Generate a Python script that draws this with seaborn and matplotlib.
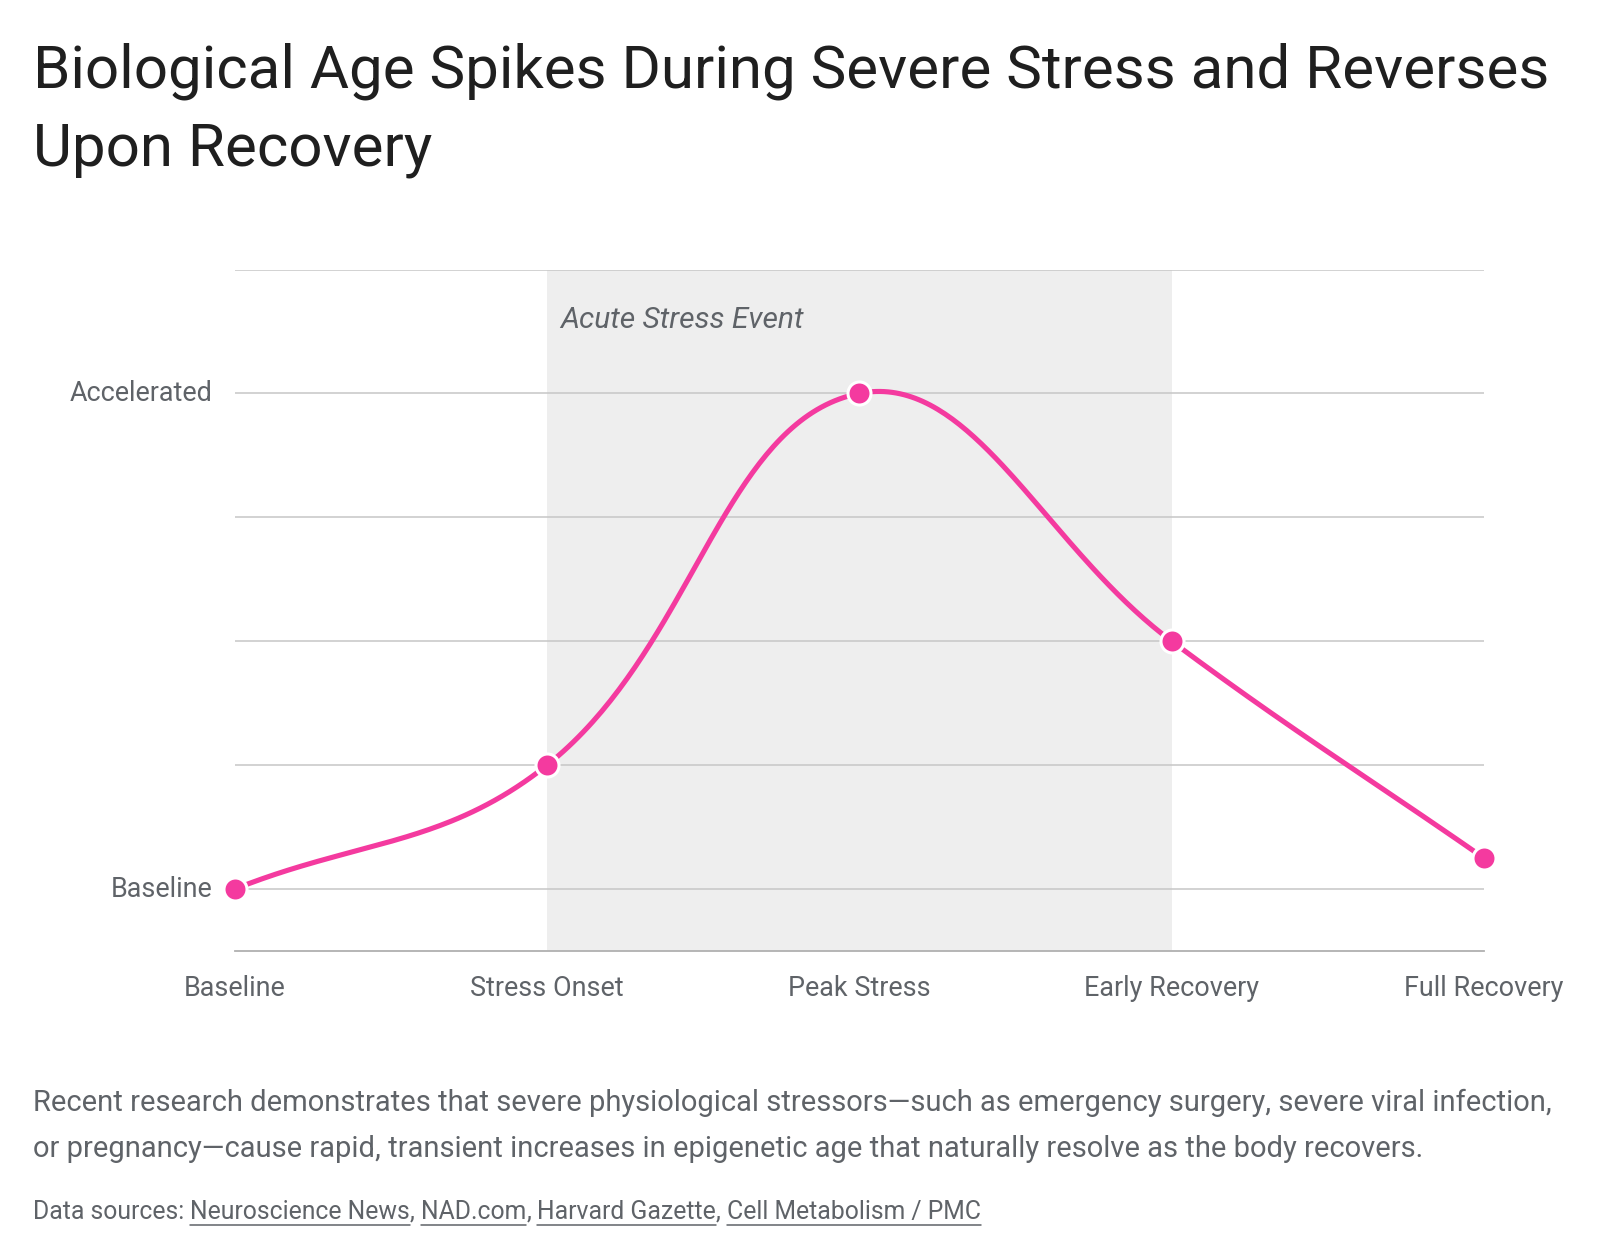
import numpy as np
import pandas as pd
import matplotlib
matplotlib.use("Agg")
import matplotlib.pyplot as plt
import seaborn as sns

# ---------------- data ----------------
stages = ["Baseline", "Stress Onset", "Peak Stress", "Early Recovery", "Full Recovery"]
bio_age = [0.0, 1.0, 4.0, 2.0, 0.25]
y_tick_values = [0, 1, 2, 3, 4, 5]
y_tick_labels = ["Baseline", "", "", "", "Accelerated", ""]
event_start = "Stress Onset"
event_end = "Early Recovery"
event_label = "Acute Stress Event"

title_lines = ["Biological Age Spikes During Severe Stress and Reverses", "Upon Recovery"]
body_lines = [
    "Recent research demonstrates that severe physiological stressors\u2014such as emergency surgery, severe viral infection,",
    "or pregnancy\u2014cause rapid, transient increases in epigenetic age that naturally resolve as the body recovers.",
]
source_prefix = "Data sources:"
source_links = ["Neuroscience News", "NAD.com", "Harvard Gazette", "Cell Metabolism / PMC"]

PINK = "#F43A9F"
GRAY_TXT = "#5f6368"
DARK_TXT = "#1f1f1f"
TENSION = 0.4

sns.set_theme(style="white")
plt.rcParams["font.family"] = ["Roboto", "DejaVu Sans"]

W, H = 1600, 1258
fig = plt.figure(figsize=(W / 100, H / 100), dpi=100)
fig.patch.set_facecolor("white")


def fx(px):
    return px / W


def fy(py):
    return 1 - py / H


ax_l, ax_r, ax_t, ax_b = 234.7, 1484.0, 269.5, 951.0
ax = fig.add_axes([fx(ax_l), fy(ax_b), (ax_r - ax_l) / W, (ax_b - ax_t) / H])

df = pd.DataFrame({"stage": stages, "value": bio_age})
df["pos"] = np.arange(len(stages), dtype=float)

ax.set_xlim(0, len(stages) - 1)
ax.set_ylim(-0.5, 5)


# tension-based bezier smoothing in screen space (Chart.js-style line rendering)
def spline_curve(ax, xs, ys, tension, n=80):
    pts = ax.transData.transform(np.column_stack([xs, ys]))
    m = len(pts)
    prev_c = np.zeros_like(pts)
    next_c = np.zeros_like(pts)
    bb = ax.bbox
    for i in range(m):
        cur = pts[i]
        prv = pts[i - 1] if i > 0 else cur
        nxt = pts[i + 1] if i < m - 1 else cur
        d01 = np.hypot(*(cur - prv))
        d12 = np.hypot(*(nxt - cur))
        tot = d01 + d12
        s01 = d01 / tot if tot else 0
        s12 = d12 / tot if tot else 0
        prev_c[i] = cur - tension * s01 * (nxt - prv)
        next_c[i] = cur + tension * s12 * (nxt - prv)
    for c in (prev_c, next_c):
        c[:, 0] = np.clip(c[:, 0], bb.x0, bb.x1)
        c[:, 1] = np.clip(c[:, 1], bb.y0, bb.y1)
    out = []
    for i in range(m - 1):
        u = np.linspace(0, 1, n, endpoint=(i == m - 2))[:, None]
        p0, p1, p2, p3 = pts[i], next_c[i], prev_c[i + 1], pts[i + 1]
        out.append((1 - u) ** 3 * p0 + 3 * (1 - u) ** 2 * u * p1 + 3 * (1 - u) * u ** 2 * p2 + u ** 3 * p3)
    out = np.vstack(out)
    data = ax.transData.inverted().transform(out)
    return data[:, 0], data[:, 1]


cx, cy = spline_curve(ax, df["pos"].values, df["value"].values, TENSION)

# shaded event band
x0 = stages.index(event_start)
x1 = stages.index(event_end)
ax.axvspan(x0, x1, color="#eeeeee", zorder=0, lw=0)

sns.lineplot(x=cx, y=cy, ax=ax, color=PINK, linewidth=3.7, sort=False, zorder=3)
for ln in ax.lines:
    ln.set_clip_on(False)
    ln.set_solid_capstyle("round")
sns.scatterplot(data=df, x="pos", y="value", ax=ax, s=275, color=PINK,
                edgecolor="white", linewidth=2.2, zorder=5, clip_on=False, legend=False)

ax.set_xlim(0, len(stages) - 1)
ax.set_ylim(-0.5, 5)
ax.set_xticks(df["pos"])
ax.set_xticklabels(stages)
ax.set_yticks(y_tick_values)
ax.set_yticklabels(y_tick_labels)
ax.set_xlabel("")
ax.set_ylabel("")
ax.set_axisbelow(True)
ax.yaxis.grid(True, color="#c6c6c6", linewidth=1.1)
ax.xaxis.grid(False)
for side in ["top", "right", "left"]:
    ax.spines[side].set_visible(False)
ax.spines["bottom"].set_color("#b0b0b0")
ax.spines["bottom"].set_linewidth(1.3)
ax.tick_params(axis="both", length=0, colors=GRAY_TXT, labelsize=17)
ax.tick_params(axis="x", pad=17)
ax.tick_params(axis="y", pad=16)
for lbl in ax.get_yticklabels():
    lbl.set_va("center")
ax.set_facecolor("white")

ev = ax.annotate(event_label, xy=(x0, 5), xycoords="data", xytext=(9.5, -36),
                 textcoords="offset points", ha="left", va="center",
                 fontsize=18, style="italic", color=GRAY_TXT)

# titles
t1 = fig.text(fx(33), fy(88), title_lines[0], ha="left", va="baseline", fontsize=40, color=DARK_TXT)
t2 = fig.text(fx(33), fy(165), title_lines[1], ha="left", va="baseline", fontsize=40, color=DARK_TXT)

b1 = fig.text(fx(33), fy(1103), body_lines[0], ha="left", va="center", fontsize=19, color=GRAY_TXT)
b2 = fig.text(fx(33), fy(1149), body_lines[1], ha="left", va="center", fontsize=19, color=GRAY_TXT)

fig.canvas.draw()
r = fig.canvas.get_renderer()


def fit(t, target):
    w = t.get_window_extent(r).width
    return t.get_fontsize() * target / w


fs_title = fit(t1, 1513)
t1.set_fontsize(fs_title)
t2.set_fontsize(fs_title)
fs_body = fit(b1, 1518)
b1.set_fontsize(fs_body)
b2.set_fontsize(fs_body)
fs_ev = fit(ev, 244)
ev.set_fontsize(fs_ev)
ref_tick = ax.get_xticklabels()[stages.index("Early Recovery")]
fs_tick = fit(ref_tick, 175)
ax.tick_params(axis="both", labelsize=fs_tick)

# sources line with underlined links
full_src = source_prefix + " " + ", ".join(source_links)
tmp = fig.text(fx(33), fy(1212), full_src, fontsize=16)
fig.canvas.draw()
fs_src = fit(tmp, 950)
tmp.remove()

sp1 = fig.text(0, 0, "a b", fontsize=fs_src)
sp2 = fig.text(0, 0, "ab", fontsize=fs_src)
fig.canvas.draw()
space_px = sp1.get_window_extent(r).width - sp2.get_window_extent(r).width
sp1.remove()
sp2.remove()

tokens = [(source_prefix, False, 0.0)]
for i, lk in enumerate(source_links):
    tokens.append((lk, True, space_px))
    if i < len(source_links) - 1:
        tokens.append((",", False, 0.0))

x_cur = 33.0
y_src = 1212
for txt, is_link, gap in tokens:
    x_cur += gap
    tt = fig.text(fx(x_cur), fy(y_src), txt, ha="left", va="center", fontsize=fs_src, color=GRAY_TXT)
    fig.canvas.draw()
    ext = tt.get_window_extent(r)
    if is_link:
        uy = fy(y_src + 12.5)
        fig.add_artist(matplotlib.lines.Line2D([fx(ext.x0), fx(ext.x1)], [uy, uy],
                                               transform=fig.transFigure, color=GRAY_TXT, lw=1.1))
    x_cur = ext.x1

fig.savefig("out.png", dpi=100, facecolor="white")
